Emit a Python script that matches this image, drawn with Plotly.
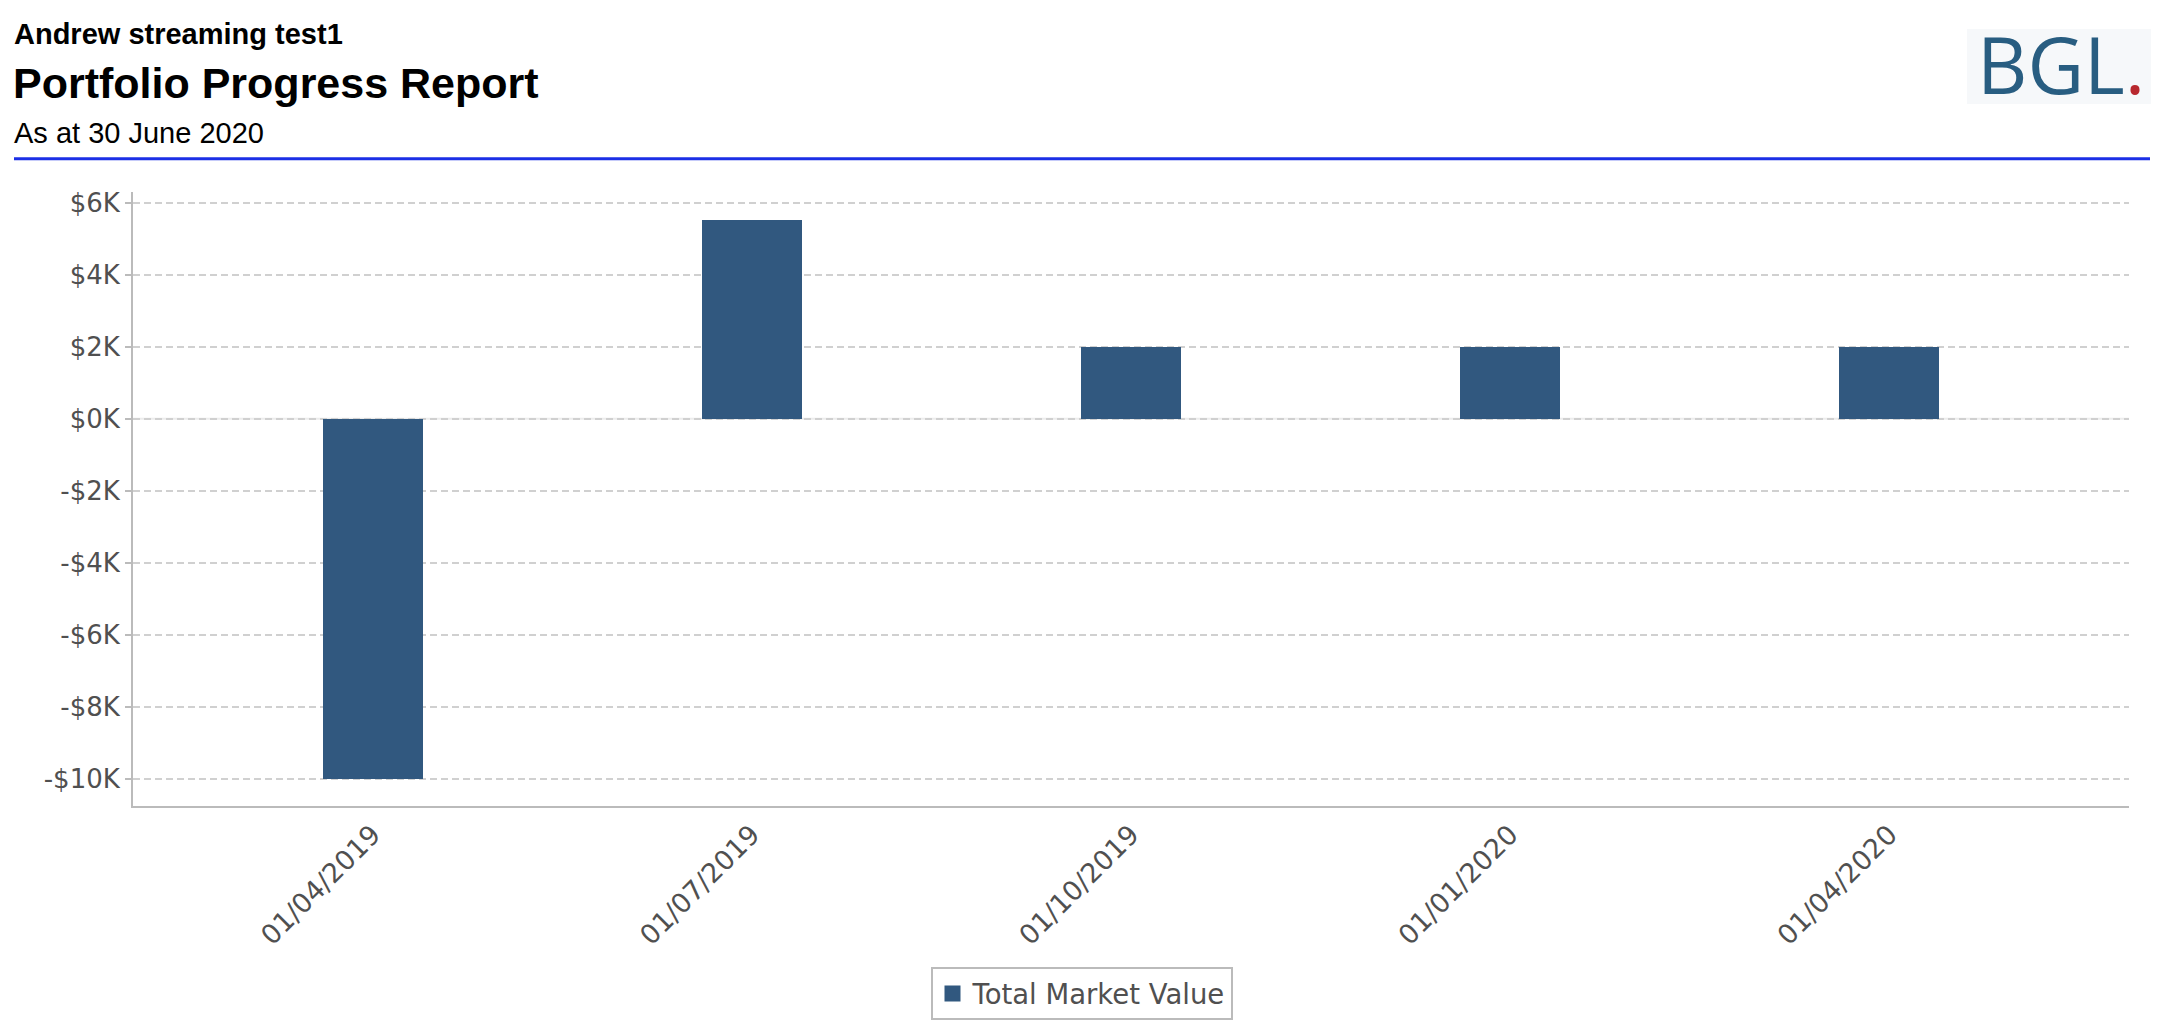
import plotly.graph_objects as go

categories = ["01/04/2019", "01/07/2019", "01/10/2019", "01/01/2020", "01/04/2020"]
total_market_value = [-10000, 5520, 2000, 2000, 2000]
y_tick_vals = [-10000, -8000, -6000, -4000, -2000, 0, 2000, 4000, 6000]
y_tick_text = ["-$10K", "-$8K", "-$6K", "-$4K", "-$2K", "$0K", "$2K", "$4K", "$6K"]

# page has an 8px body margin: figure coordinates = page coordinates - 8
OFF = 8
W, H = 2164 - 2 * OFF, 1036 - 2 * OFF
L, T = 133 - OFF, 192 - OFF
R = W - (2129 - OFF)
B = H - (806 - OFF)
PH = H - T - B
PW = W - L - R

def py(p):  # page y pixel -> paper
    return (H - B - (p - OFF)) / PH

def px(p):  # page x pixel -> paper
    return ((p - OFF) - L) / PW

BAR_COLOR = "#31587F"
TEXT_GRAY = "#505050"

fig = go.Figure()
fig.add_trace(go.Bar(
    x=categories, y=total_market_value, name="Total Market Value",
    marker=dict(color=BAR_COLOR, line=dict(width=0)), width=0.264, showlegend=False,
))
# legend entry with a larger square swatch
fig.add_trace(go.Scatter(
    x=[None], y=[None], mode="markers", name="Total Market Value",
    marker=dict(symbol="square", size=22, color=BAR_COLOR), showlegend=True,
))

y_tick_font = dict(family="DejaVu Sans", size=26, color=TEXT_GRAY)
x_tick_font = dict(family="DejaVu Sans", size=27, color=TEXT_GRAY)

fig.update_layout(
    width=W, height=H,
    margin=dict(l=L, r=R, t=T, b=B, autoexpand=False),
    plot_bgcolor="white", paper_bgcolor="white",
    showlegend=True,
    legend=dict(orientation="h", x=px(1081.5), xanchor="center", y=py(967), yanchor="top",
                bordercolor="#bbbbbb", borderwidth=2,
                font=dict(family="DejaVu Sans", size=27.5, color=TEXT_GRAY),
                itemsizing="trace"),
    xaxis=dict(type="category", range=[-0.632, 4.632], tickangle=-45, tickfont=x_tick_font,
               showline=True, linecolor="#bbbbbb", linewidth=2, showgrid=False, ticks="",
               zeroline=False),
    yaxis=dict(range=[-10764, 6306], tickvals=y_tick_vals, ticktext=y_tick_text, tickfont=y_tick_font,
               showline=True, linecolor="#bbbbbb", linewidth=2, ticks="outside", ticklen=6,
               tickcolor="#bbbbbb", tickwidth=2,
               showgrid=True, gridcolor="#d0d0d0", gridwidth=1.5, griddash="7px,4px", zeroline=False),
    bargap=0.0,
)

# light solid underlay on the zero line
fig.add_hline(y=0, line=dict(color="#ececec", width=2), layer="below")

# Header texts
fig.add_annotation(text="<b>Andrew streaming test1</b>", xref="paper", yref="paper",
                   x=px(12), y=py(52), xanchor="left", yanchor="bottom",
                   showarrow=False, font=dict(family="Liberation Sans", size=29, color="#000000"))
fig.add_annotation(text="<b>Portfolio Progress Report</b>", xref="paper", yref="paper",
                   x=px(11), y=py(109), xanchor="left", yanchor="bottom",
                   showarrow=False, font=dict(family="Liberation Sans", size=43, color="#000000"))
fig.add_annotation(text="As at 30 June 2020", xref="paper", yref="paper",
                   x=px(12), y=py(150.5), xanchor="left", yanchor="bottom",
                   showarrow=False, font=dict(family="Liberation Sans", size=29, color="#000000"))

# Blue separator line
fig.add_shape(type="line", xref="paper", yref="paper",
              x0=px(14), x1=px(2150), y0=py(158.7), y1=py(158.7),
              line=dict(color="#1b2fe6", width=3))

# Logo
fig.add_shape(type="rect", xref="paper", yref="paper",
              x0=px(1967), x1=px(2151), y0=py(104), y1=py(29),
              fillcolor="#f6f8fa", line=dict(width=0), layer="below")
fig.add_annotation(text="BGL<span style='color:#b8282e'>.</span>", xref="paper", yref="paper",
                   x=px(1975), y=py(119), xanchor="left", yanchor="bottom",
                   showarrow=False, font=dict(family="Open Sans", size=78, color="#285d81"))

fig.write_html("out.html")
